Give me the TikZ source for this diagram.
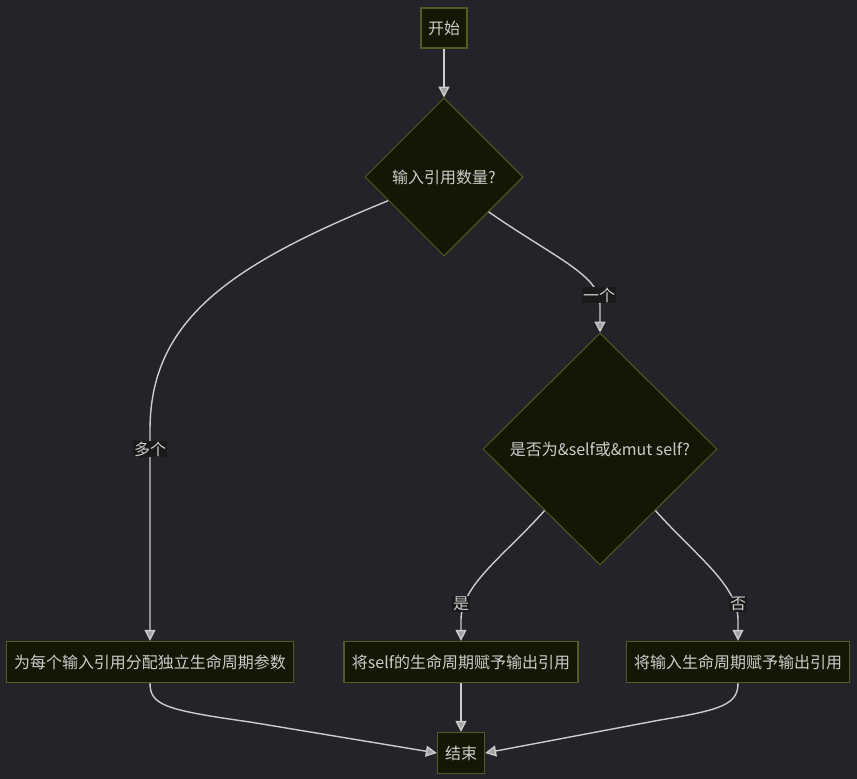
\documentclass[tikz,border=0pt]{standalone}
\usepackage{fontspec}
\setmainfont{Noto Sans CJK SC}
\usetikzlibrary{shapes.geometric,arrows.meta}
\definecolor{bgc}{RGB}{36,35,41}
\definecolor{nfill}{RGB}{22,22,4}
\definecolor{nborder}{RGB}{78,94,32}
\definecolor{tcol}{RGB}{204,204,204}
\definecolor{ecol}{RGB}{204,204,204}
\definecolor{lblbg}{RGB}{26,26,26}
\tikzset{
  box/.style={draw=nborder, fill=nfill, line width=1.3pt, text=tcol, inner sep=0pt, minimum height=41pt, font=\fontsize{16}{19}\selectfont},
  dia/.style={diamond, draw=nborder, fill=nfill, line width=1pt, text=tcol, inner sep=0pt, font=\fontsize{16}{19}\selectfont},
  conn/.style={draw=ecol, line width=1.4pt, -{Triangle[length=11pt,width=11pt,fill=ecol!80!black]}},
  elabel/.style={fill=lblbg, text=tcol, inner sep=1pt, font=\fontsize{16}{19}\selectfont}
}
\begin{document}
\begin{tikzpicture}[x=1pt,y=1pt]
\fill[bgc] (0,0) rectangle (857,-779);
\useasboundingbox (0,0) rectangle (857,-779);
\node[box, minimum width=46pt, minimum height=40pt] (start) at (444,-28) {开始};
\node[dia, minimum width=158pt, minimum height=158pt] (d1) at (444,-177) {输入引用数量?};
\node[dia, minimum width=234pt, minimum height=232pt] (d2) at (600,-449) {是否为\&self或\&mut self?};
\node[box, minimum width=287pt] (l) at (150,-662) {为每个输入引用分配独立生命周期参数};
\node[box, minimum width=234pt] (m) at (461,-662) {将self的生命周期赋予输出引用};
\node[box, minimum width=223pt] (r) at (738,-662) {将输入生命周期赋予输出引用};
\node[box, minimum width=47pt] (end) at (461,-753) {结束};

\draw[conn] (start) -- (d1);
\draw[conn] (d1.203) .. controls (230,-265) and (150,-320) .. (150,-430) -- (l.north);
\draw[conn] (d1.322) .. controls (555,-258) and (600,-275) .. (600,-305) -- (d2.north);
\draw[conn] (d2.228) .. controls (505,-555) and (461,-585) .. (461,-620) -- (m.north);
\draw[conn] (d2.312) .. controls (695,-555) and (738,-585) .. (738,-620) -- (r.north);
\draw[conn] (l.south) .. controls (150,-705) and (165,-710) .. (250,-722) -- (end.west);
\draw[conn] (m.south) -- (end.north);
\draw[conn] (r.south) .. controls (738,-705) and (720,-710) .. (660,-720) -- (end.east);

\node[elabel] (lb1) at (150,-449) {多个};
\node[elabel] (lb2) at (599,-295) {一个};
\node[elabel] (lb3) at (461,-604) {是};
\node[elabel] (lb4) at (738,-604) {否};
\end{tikzpicture}
\end{document}
